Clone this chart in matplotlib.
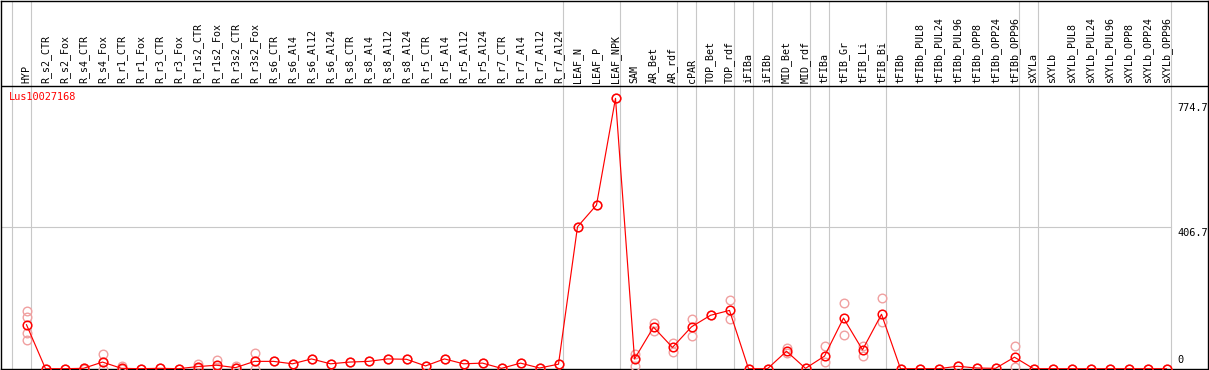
import matplotlib
matplotlib.use("Agg")
import matplotlib.pyplot as plt

# ---------------- data ----------------
gene_id = "Lus10027168"

categories = [
    "HYP", "R_s2_CTR", "R_s2_Fox", "R_s4_CTR", "R_s4_Fox", "R_r1_CTR", "R_r1_Fox",
    "R_r3_CTR", "R_r3_Fox", "R_r1s2_CTR", "R_r1s2_Fox", "R_r3s2_CTR", "R_r3s2_Fox",
    "R_s6_CTR", "R_s6_Al4", "R_s6_Al12", "R_s6_Al24", "R_s8_CTR", "R_s8_Al4",
    "R_s8_Al12", "R_s8_Al24", "R_r5_CTR", "R_r5_Al4", "R_r5_Al12", "R_r5_Al24",
    "R_r7_CTR", "R_r7_Al4", "R_r7_Al12", "R_r7_Al24", "LEAF_N", "LEAF_P", "LEAF_NPK",
    "SAM", "AR_Bet", "AR_rdf", "cPAR", "TOP_Bet", "TOP_rdf", "iFIBa", "iFIBb",
    "MID_Bet", "MID_rdf", "tFIBa", "tFIB_Gr", "tFIB_Li", "tFIB_Bi", "tFIBb",
    "tFIBb_PUL8", "tFIBb_PUL24", "tFIBb_PUL96", "tFIBb_OPP8", "tFIBb_OPP24",
    "tFIBb_OPP96", "sXYLa", "sXYLb", "sXYLb_PUL8", "sXYLb_PUL24", "sXYLb_PUL96",
    "sXYLb_OPP8", "sXYLb_OPP24", "sXYLb_OPP96",
]

mean_values = [
    126, 0, 0, 1, 19, 1, 0, 1, 0, 6, 10, 3, 21,
    21, 14, 28, 14, 19, 21, 28, 27, 8, 28, 14, 16, 1, 16, 2, 13,
    406.7, 469, 774.7,
    28, 119, 61, 120, 153, 167, 0, 0, 50, 1, 36, 145, 54, 156, 0,
    0, 0, 7, 2, 1, 33,
    0, 0, 0, 0, 0, 0, 0, 0,
]

replicate_values = [
    [164, 148, 102, 82], [0], [0], [1, 0], [42, 0, 19], [8, 0], [0], [1], [0],
    [13, 2], [25, 4], [8, 1], [45, 0, 21],
    [21], [14], [28], [14], [19], [21], [28], [27], [8], [28], [14], [16], [1],
    [16], [2], [13],
    [406.7], [469], [774.7],
    [42, 8, 32], [132, 108], [73, 49], [143, 95], [153], [196, 142], [0], [0],
    [59, 44], [1], [65, 18], [187, 96], [66, 36], [202, 133], [0],
    [0], [0], [7], [2], [1], [65, 4],
    [0], [0], [0], [0], [0], [0], [0], [0],
]

group_boundaries_after = [-1, 0, 28, 31, 34, 35, 37, 38, 39, 41, 42, 45, 52, 53, 60]
ytick_values = [774.7, 406.7, 0]
ytick_labels = ["774.7", "406.7", "0"]
gridline_values = [406.7]

# ---------------- layout (pixels) ----------------
W_PX, H_PX = 1209, 370
X0_PX, STEP_PX = 26.5, 19.0          # pixel x of first category, spacing
ZERO_PX, PX_PER_UNIT = 368.7, 0.349  # pixel y of value 0, scale
AX_L, AX_R, AX_T, AX_B = 0.5, 1207.5, 0.5, 369.0
HEADER_PX = 85.5
LABEL_BASE_PX = 83.0

fig = plt.figure(figsize=(W_PX / 100, H_PX / 100), dpi=100)
ax = fig.add_axes([AX_L / W_PX, (H_PX - AX_B) / H_PX,
                   (AX_R - AX_L) / W_PX, (AX_B - AX_T) / H_PX])

ax.set_xlim((AX_L - X0_PX) / STEP_PX, (AX_R - X0_PX) / STEP_PX)
ax.set_ylim(-(AX_B - ZERO_PX) / PX_PER_UNIT, (ZERO_PX - AX_T) / PX_PER_UNIT)
ax.set_xticks([])
ax.set_yticks([])
for s in ax.spines.values():
    s.set_color("black")
    s.set_linewidth(1.0)

def val_of_px(ypx):
    return (ZERO_PX - ypx) / PX_PER_UNIT

x_idx = list(range(len(categories)))

# vertical group gridlines
for b in group_boundaries_after:
    ax.axvline(b + 0.24, color="#c8c8c8", lw=0.8, zorder=1)

# horizontal gridlines
for gv in gridline_values:
    ax.plot([ax.get_xlim()[0], group_boundaries_after[-1] + 0.24], [gv, gv],
            color="#c8c8c8", lw=0.8, zorder=1)

# header separator
ax.axhline(val_of_px(HEADER_PX), color="black", lw=1.0, zorder=3)

# category labels
mono = "DejaVu Sans Mono"
for i, name in enumerate(categories):
    ax.text(i, val_of_px(LABEL_BASE_PX), name, rotation=90, ha="center", va="bottom",
            fontsize=7.2, family=mono, color="black", zorder=4)

# gene id
ax.text((9 - X0_PX) / STEP_PX, val_of_px(97.5), gene_id, ha="left", va="center",
        fontsize=7.4, family=mono, color="red", zorder=4)

# y labels on the right
xl = (1177.5 - X0_PX) / STEP_PX
ax.annotate(ytick_labels[0], (xl, ytick_values[0]), xytext=(0, -3.5),
            textcoords="offset points", ha="left", va="top", fontsize=7.4, family=mono)
ax.annotate(ytick_labels[1], (xl, ytick_values[1]), xytext=(0, -0.8),
            textcoords="offset points", ha="left", va="top", fontsize=7.4, family=mono)
ax.annotate(ytick_labels[2], (xl, ytick_values[2]), xytext=(0, 3.0),
            textcoords="offset points", ha="left", va="bottom", fontsize=7.4, family=mono)

# replicates
rx, ry = [], []
for i, reps in enumerate(replicate_values):
    for v in reps:
        rx.append(i)
        ry.append(v)
ax.plot(rx, ry, linestyle="none", marker="o", markersize=6.2, markerfacecolor="none",
        markeredgecolor="#f0a0a0", markeredgewidth=1.0, zorder=5)

# mean line
ax.plot(x_idx, mean_values, color="red", lw=0.85, marker="o", markersize=6.2,
        markerfacecolor="none", markeredgecolor="red", markeredgewidth=1.1, zorder=6)

fig.savefig("out.png", dpi=100)
